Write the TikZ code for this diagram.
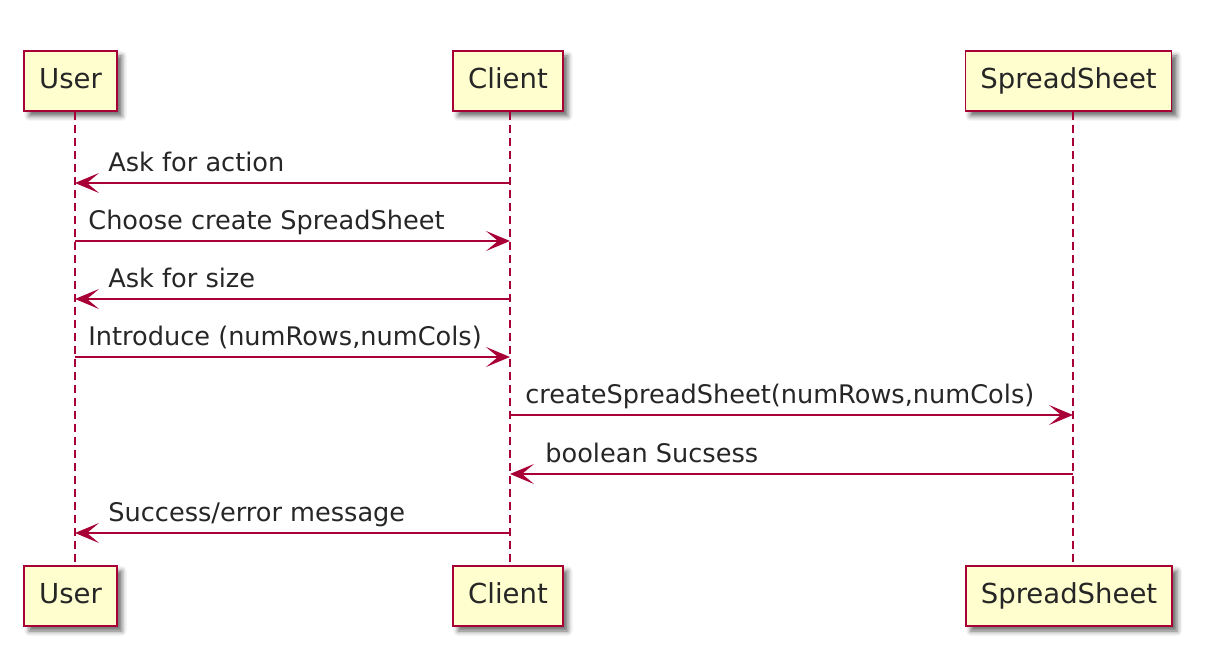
\documentclass[tikz,border=0pt]{standalone}
\usepackage{fontspec}
\setmainfont{DejaVu Sans}
\usepackage{tikz}
\usetikzlibrary{arrows.meta,calc,shadows.blur}
\definecolor{pfill}{HTML}{FEFECE}
\definecolor{pred}{HTML}{A80036}

\begin{document}
\begin{tikzpicture}[x=0.5pt,y=-0.5pt,
  box/.style={draw=pred,fill=pfill,line width=0.75pt,minimum height=30pt,inner xsep=7.5pt,text=black!85,
    text height=0.76em,text depth=0pt,font=\fontsize{13.75}{16}\selectfont,
    blur shadow={shadow xshift=2.5pt,shadow yshift=-2.5pt,shadow blur radius=2.5pt,shadow opacity=60}},
  arr/.style={-{Stealth[length=12pt,width=10pt,inset=6pt]},line width=0.75pt,pred},
  life/.style={pred,line width=0.7pt,dash pattern=on 4pt off 2.5pt},
  lbl/.style={anchor=base west,inner sep=0pt,text=black!85,font=\fontsize{12.8}{15}\selectfont}]
\useasboundingbox (0,0) rectangle (1212,646);
% participants
\node[box] (user) at (70.5,81) {User};
\node[box] (client) at (508,81) {Client};
\node[box] (sheet) at (1068.5,81) {SpreadSheet};
\node[box] (userb) at (70.5,596) {User};
\node[box] (clientb) at (508,596) {Client};
\node[box] (sheetb) at (1069,596) {SpreadSheet};
% lifelines
\coordinate (ul) at (75,0);
\coordinate (cl) at (510,0);
\coordinate (sl) at (1073,0);
\draw[life] (ul |- user.south) -- (ul |- userb.north);
\draw[life] (cl |- client.south) -- (cl |- clientb.north);
\draw[life] (sl |- sheet.south) -- (sl |- sheetb.north);
% messages
\draw[arr] (cl |- 0,183) -- (ul |- 0,183);
\node[lbl] (m1) at ($(ul |- 0,183)+(33,-11)$) {Ask for action};
\draw[arr] (ul |- 0,241) -- (cl |- 0,241);
\node[lbl] (m2) at ($(ul |- 0,241)+(13,-11)$) {Choose create SpreadSheet};
\draw[arr] (cl |- 0,299) -- (ul |- 0,299);
\node[lbl] (m3) at ($(ul |- 0,299)+(33,-11)$) {Ask for size};
\draw[arr] (ul |- 0,357) -- (cl |- 0,357);
\node[lbl] (m4) at ($(ul |- 0,357)+(13,-11)$) {Introduce (numRows,numCols)};
\draw[arr] (cl |- 0,415) -- (sl |- 0,415);
\node[lbl] (m5) at ($(cl |- 0,415)+(15,-11)$) {createSpreadSheet(numRows,numCols)};
\draw[arr] (sl |- 0,474) -- (cl |- 0,474);
\node[lbl] (m6) at ($(cl |- 0,474)+(35,-11)$) {boolean Sucsess};
\draw[arr] (cl |- 0,533) -- (ul |- 0,533);
\node[lbl] (m7) at ($(ul |- 0,533)+(33,-11)$) {Success/error message};
\end{tikzpicture}
\end{document}
